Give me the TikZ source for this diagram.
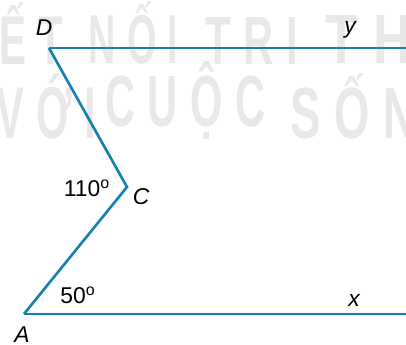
\documentclass[tikz,border=0pt]{standalone}
\usepackage{fontspec}
\setmainfont{Liberation Sans}
\newfontfamily\wmfont[LetterSpace=30]{Liberation Sans Bold}
\usepackage{graphicx}
\definecolor{segblue}{RGB}{22,128,176}
\definecolor{wmgray}{RGB}{232,232,232}
\begin{document}
\begin{tikzpicture}[
    x=0.02cm, y=-0.02cm,
    seg/.style={segblue, line width=1.5pt, line join=miter},
    ray/.style={segblue, line width=1.2pt},
    lbl/.style={font=\fontsize{13}{15}\selectfont\itshape, inner sep=0pt},
    ang/.style={font=\fontsize{13}{15}\selectfont, inner sep=0pt},
    wm/.style={wmgray, inner sep=0pt, anchor=south west, font=\wmfont}
  ]
    \useasboundingbox (0,0) rectangle (406,345);
    \begin{scope}
    \clip (0,0) rectangle (406,345);
    % watermark
    \node[wm] (w1) at (-42,65) {\resizebox{2.1cm}{1.24cm}{KẾT}};
    \node[wm] (w2) at (88,65) {\resizebox{1.8cm}{1.24cm}{NỐI}};
    \node[wm] (w3) at (205,65) {\resizebox{1.85cm}{0.94cm}{TRI}};
    \node[wm] (w4) at (325,65) {\resizebox{4cm}{1.24cm}{THỨC}};
    \node[wm] (w5) at (-4,140) {\resizebox{2cm}{1.3cm}{VỚI}};
    \node[wm] (w6) at (105,140) {\resizebox{3.2cm}{1.3cm}{CUỘC}};
    \node[wm] (w7) at (290,140) {\resizebox{3.5cm}{1.3cm}{SỐNG}};
    \end{scope}
    % points
    \coordinate (D) at (49,48);
    \coordinate (C) at (127,187);
    \coordinate (A) at (24,314);
    \coordinate (y) at (406,48);
    \coordinate (x) at (406,314);
    \draw[ray] (D) -- (y);
    \draw[ray] (A) -- (x);
    \draw[seg] (D) -- (C) -- (A);
    % labels
    \node[lbl] (nD) at (44,28) {D};
    \node[lbl] (ny) at (350,30) {y};
    \node[lbl] (nC) at (141,197) {C};
    \node[lbl] (nA) at (22,335) {A};
    \node[lbl] (nx) at (354,300) {x};
    \node[ang] (n110) at (87,188) {110\textsuperscript{o}};
    \node[ang] (n50) at (78,295) {50\textsuperscript{o}};
  \end{tikzpicture}
\end{document}
